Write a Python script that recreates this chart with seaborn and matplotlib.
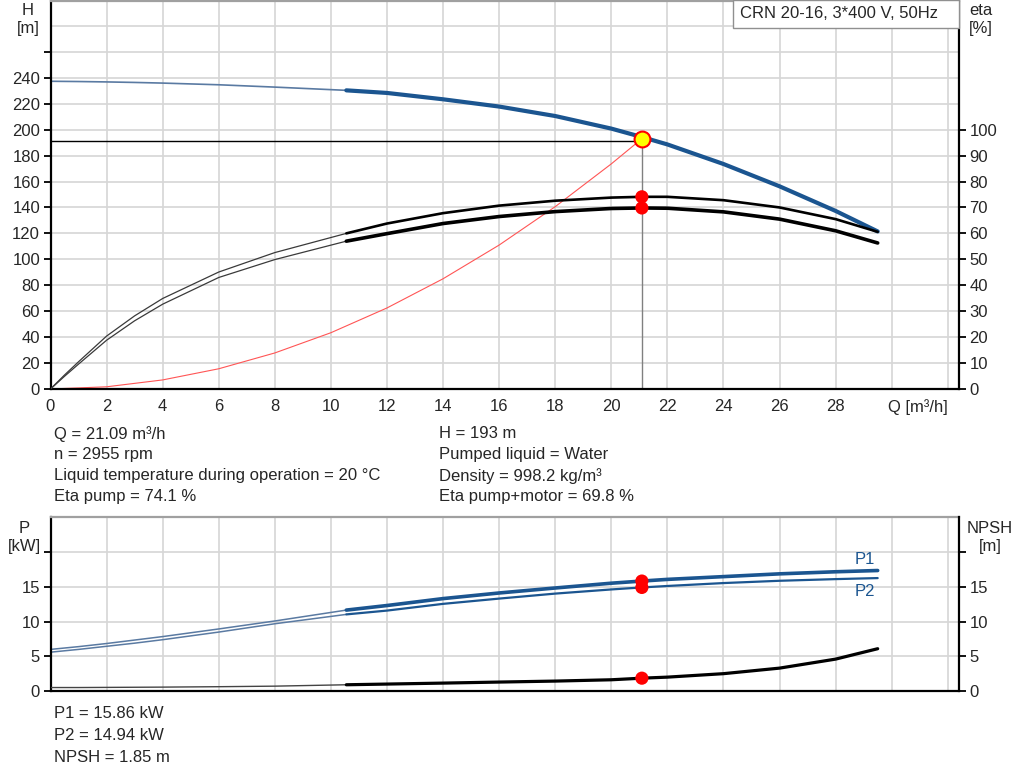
import matplotlib
matplotlib.use("Agg")
import matplotlib.pyplot as plt
from matplotlib.patches import Rectangle
import seaborn as sns

# flow readings [m3/h]; thin part of the curves runs up to 10.55, thick part after
q_lo = [0, 0.5, 1, 2, 3, 4, 6, 8, 10.55]
q_hi = [10.55, 12, 14, 16, 18, 20, 21.09, 22, 24, 26, 28, 29.5]

h_lo = [237.3, 237.2, 237.1, 236.8, 236.4, 235.9, 234.6, 232.8, 230.3]
h_hi = [230.3, 228.3, 223.4, 217.8, 210.5, 200.8, 194.3, 188.6, 173.5, 156.3, 137.3, 121.5]

eta_pump_lo = [0, 5.4, 10.5, 20.4, 28.2, 34.9, 45.1, 52.6, 60.0]
eta_pump_hi = [60.0, 63.8, 67.8, 70.7, 72.6, 73.8, 74.1, 74.1, 72.8, 70.0, 65.5, 60.6]
eta_tot_lo = [0, 4.9, 9.6, 18.8, 26.3, 32.7, 43.0, 49.9, 57.0]
eta_tot_hi = [57.0, 59.9, 63.8, 66.5, 68.4, 69.6, 69.8, 69.7, 68.3, 65.5, 61.0, 56.3]

# system curve up to the duty point
q_sys = [0, 2, 4, 6, 8, 10, 12, 14, 16, 18, 20, 21.09]
h_sys = [0, 1.7, 7.0, 15.6, 27.8, 43.4, 62.5, 85, 111, 140.6, 173.6, 193]

p1_lo = [6.0, 6.2, 6.4, 6.85, 7.35, 7.85, 8.95, 10.1, 11.67]
p1_hi = [11.67, 12.33, 13.33, 14.14, 14.86, 15.55, 15.86, 16.1, 16.5, 16.9, 17.2, 17.38]
p2_lo = [5.6, 5.8, 6.0, 6.45, 6.9, 7.4, 8.5, 9.7, 11.05]
p2_hi = [11.05, 11.6, 12.57, 13.33, 14.05, 14.65, 14.94, 15.15, 15.57, 15.9, 16.14, 16.29]
npsh_lo = [0.5, 0.5, 0.5, 0.52, 0.54, 0.56, 0.62, 0.7, 0.9]
npsh_hi = [0.9, 1.0, 1.14, 1.29, 1.43, 1.62, 1.85, 2.0, 2.5, 3.3, 4.6, 6.1]

# duty point
q_op = 21.09
h_op = 193
eta_pump_op = 74.1
eta_tot_op = 69.8
p1_op = 15.86
p2_op = 14.94
npsh_op = 1.85

x_ticks = list(range(0, 33, 2))
x_labels = [str(v) if v <= 28 else "" for v in x_ticks]
h_ticks = list(range(0, 261, 20))
h_labels = [str(v) if v <= 240 else "" for v in h_ticks]
eta_ticks = list(range(0, 101, 10))
p_ticks = [0, 5, 10, 15, 20]
p_labels = ["0", "5", "10", "15", ""]

info_left = ["Q = 21.09 m³/h", "n = 2955 rpm",
             "Liquid temperature during operation = 20 °C", "Eta pump = 74.1 %"]
info_right = ["H = 193 m", "Pumped liquid = Water",
              "Density = 998.2 kg/m³", "Eta pump+motor = 69.8 %"]
info_bottom = ["P1 = 15.86 kW", "P2 = 14.94 kW", "NPSH = 1.85 m"]

sns.set_theme(style="white")
plt.rcParams["font.family"] = ["Liberation Sans", "DejaVu Sans"]

FS = 12
BLUE = "#1b5590"
BLUE_THIN = "#5a7aa2"
GRID = "#d6d6d6"
W, H = 1024, 781

fig = plt.figure(figsize=(W / 100, H / 100), dpi=100)


def fx(px):
    return px / W


def fy(py):
    return 1 - py / H


def style_axes(ax, twin):
    ax.set_xlim(0, 32.4)
    ax.grid(True, color=GRID, lw=1.2)
    ax.set_axisbelow(True)
    ax.spines["top"].set_color("#a0a0a0")
    ax.spines["top"].set_linewidth(1.6)
    for s in ["left", "bottom"]:
        ax.spines[s].set_color("black")
        ax.spines[s].set_linewidth(1.6)
    ax.spines["right"].set_visible(False)
    for s in ["left", "top", "bottom"]:
        twin.spines[s].set_visible(False)
    twin.spines["right"].set_color("black")
    twin.spines["right"].set_linewidth(1.6)
    for a in (ax, twin):
        a.tick_params(direction="out", length=5, width=1.3, labelsize=FS,
                      color="black", pad=2.5)
    twin.grid(False)


# ---- top: head / efficiency ----
ax = fig.add_axes([fx(50.5), fy(389), fx(959) - fx(50.5), fy(1) - fy(389)])
ax_eta = ax.twinx()
style_axes(ax, ax_eta)
ax.set_ylim(0, 299.2)
ax_eta.set_ylim(0, 149.6)
ax.set_xticks(x_ticks)
ax.set_xticklabels(x_labels)
ax.set_yticks(h_ticks)
ax.set_yticklabels(h_labels)
ax.axhline(280, color=GRID, lw=1.2, zorder=0)
ax_eta.set_yticks(eta_ticks)

sns.lineplot(x=q_sys, y=h_sys, ax=ax, color="#ff5555", lw=0.8, sort=False,
             estimator=None)
ax.plot([0, q_op], [h_op - 1.5, h_op - 1.5], color="black", lw=1)
ax.plot([q_op, q_op], [0, h_op], color="#808080", lw=1)
sns.lineplot(x=q_lo, y=h_lo, ax=ax, color=BLUE_THIN, lw=1.2, sort=False,
             estimator=None)
sns.lineplot(x=q_hi, y=h_hi, ax=ax, color=BLUE, lw=3.0, sort=False,
             estimator=None)

sns.lineplot(x=q_lo, y=eta_pump_lo, ax=ax_eta, color="#3a3a3a", lw=0.9,
             sort=False, estimator=None)
sns.lineplot(x=q_lo, y=eta_tot_lo, ax=ax_eta, color="#3a3a3a", lw=0.9,
             sort=False, estimator=None)
sns.lineplot(x=q_hi, y=eta_pump_hi, ax=ax_eta, color="black", lw=1.9,
             sort=False, estimator=None)
sns.lineplot(x=q_hi, y=eta_tot_hi, ax=ax_eta, color="black", lw=2.6,
             sort=False, estimator=None)
sns.scatterplot(x=[q_op, q_op], y=[eta_pump_op, eta_tot_op], ax=ax_eta,
                color="#ff0000", s=90, edgecolor="none", zorder=6)
sns.scatterplot(x=[q_op], y=[h_op * 0.5], ax=ax_eta, color="#ffff00", s=130,
                edgecolor="#ff0000", linewidth=1.5, zorder=7)
ax.set_xlabel("")
ax.set_ylabel("")
ax_eta.set_ylabel("")
ax.annotate("Q [m³/h]", xy=(29.87, 0), xycoords=ax.get_xaxis_transform(),
            xytext=(0, -7.5), textcoords="offset points", ha="left",
            va="top", fontsize=FS)

# ---- bottom: power / NPSH ----
ax2 = fig.add_axes([fx(50.5), fy(691), fx(959) - fx(50.5), fy(517) - fy(691)])
ax_np = ax2.twinx()
style_axes(ax2, ax_np)
ax2.set_ylim(0, 25.1)
ax_np.set_ylim(0, 25.1)
ax2.set_xticks(x_ticks)
ax2.set_xticklabels([])
ax2.tick_params(axis="x", length=0)
ax2.set_yticks(p_ticks)
ax2.set_yticklabels(p_labels)
ax_np.set_yticks(p_ticks)
ax_np.set_yticklabels(p_labels)

sns.lineplot(x=q_lo, y=p1_lo, ax=ax2, color=BLUE_THIN, lw=1.1, sort=False,
             estimator=None)
sns.lineplot(x=q_lo, y=p2_lo, ax=ax2, color=BLUE_THIN, lw=1.1, sort=False,
             estimator=None)
sns.lineplot(x=q_hi, y=p1_hi, ax=ax2, color=BLUE, lw=2.6, sort=False,
             estimator=None)
sns.lineplot(x=q_hi, y=p2_hi, ax=ax2, color=BLUE, lw=1.6, sort=False,
             estimator=None)
sns.lineplot(x=q_lo, y=npsh_lo, ax=ax_np, color="#444444", lw=1.0,
             sort=False, estimator=None)
sns.lineplot(x=q_hi, y=npsh_hi, ax=ax_np, color="black", lw=2.3,
             sort=False, estimator=None)
sns.scatterplot(x=[q_op, q_op], y=[p1_op, p2_op], ax=ax2, color="#ff0000",
                s=90, edgecolor="none", zorder=6)
sns.scatterplot(x=[q_op], y=[npsh_op], ax=ax_np, color="#ff0000", s=90,
                edgecolor="none", zorder=6)
ax2.text(q_hi[-1] - 0.45, 18.9, "P1", color=BLUE, fontsize=FS, ha="center",
         va="center")
ax2.text(q_hi[-1] - 0.45, 14.3, "P2", color=BLUE, fontsize=FS, ha="center",
         va="center")
ax2.set_xlabel("")
ax2.set_ylabel("")
ax_np.set_ylabel("")

# ---- axis titles and texts ----
fig.text(fx(28), fy(3), "H\n[m]", ha="center", va="top", fontsize=FS,
         linespacing=1.25)
fig.text(fx(981), fy(3), "eta\n[%]", ha="center", va="top", fontsize=FS,
         linespacing=1.25)
fig.text(fx(24), fy(521), "P\n[kW]", ha="center", va="top", fontsize=FS,
         linespacing=1.25)
fig.text(fx(990), fy(521), "NPSH\n[m]", ha="center", va="top", fontsize=FS,
         linespacing=1.25)

fig.patches.append(Rectangle((fx(733), fy(28)), fx(959) - fx(733),
                             fy(0) - fy(28), transform=fig.transFigure,
                             facecolor="white", edgecolor="#909090", lw=1,
                             zorder=10))
fig.text(fx(740), fy(14), "CRN 20-16, 3*400 V, 50Hz", ha="left",
         va="center", fontsize=FS, zorder=11)

for i, s in enumerate(info_left):
    fig.text(fx(54), fy(434 + 21 * i), s, ha="left", va="center", fontsize=FS)
for i, s in enumerate(info_right):
    fig.text(fx(439), fy(434 + 21 * i), s, ha="left", va="center",
             fontsize=FS)
for i, s in enumerate(info_bottom):
    fig.text(fx(54), fy(713 + 22 * i), s, ha="left", va="center",
             fontsize=FS)

fig.savefig("out.png", dpi=100)
